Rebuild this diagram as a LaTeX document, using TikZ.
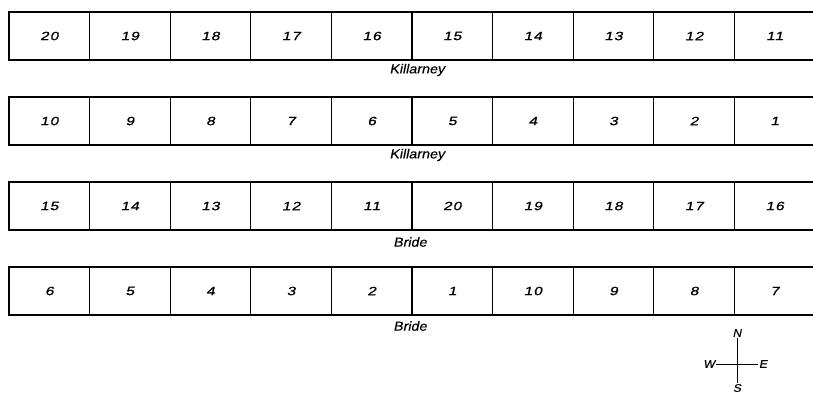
\documentclass[tikz,border=0pt]{standalone}
\usepackage{fontspec}
\setmainfont{Liberation Sans}
\newfontfamily\numfont[FakeStretch=1.3,FakeSlant=0.22,FakeBold=1.2,LetterSpace=8]{Liberation Sans}
\newfontfamily\lblfont[FakeStretch=1.1,FakeSlant=0.2,FakeBold=0.5]{Liberation Sans}
\begin{document}
\begin{tikzpicture}[x=1pt,y=1pt,
  plot/.style={draw,line width=1.3pt,minimum width=80.6pt,minimum height=48pt,inner sep=0pt,outer sep=0pt,anchor=north west,font=\numfont\fontsize{12}{14}\selectfont},
  varlabel/.style={font=\lblfont\fontsize{13}{15}\selectfont,inner sep=0pt},
  compass/.style={font=\lblfont\fontsize{11}{13}\selectfont,inner sep=1pt},
  compline/.style={line width=0.9pt}]
\useasboundingbox (0,0) rectangle (813,-394);
\clip (0,0) rectangle (813,-394);
\foreach \row/\top/\labels in {1/12/{20,19,18,17,16,15,14,13,12,11},
                               2/97/{10,9,8,7,6,5,4,3,2,1},
                               3/182/{15,14,13,12,11,20,19,18,17,16},
                               4/267/{6,5,4,3,2,1,10,9,8,7}}{
  \foreach \t [count=\c] in \labels {
    \node[plot] (r\row c\c) at ({9+(\c-1)*80.6},-\top) {\t};
  }
}
\node[varlabel] (k1) at (417,-70) {Killarney};
\node[varlabel] (k2) at (417,-155) {Killarney};
\node[varlabel] (b1) at (410,-242) {Bride};
\node[varlabel] (b2) at (410,-326) {Bride};
\node[compass] (N) at (737,-333) {N};
\node[compass] (S) at (737,-388) {S};
\node[compass] (W) at (709,-364) {W};
\node[compass] (E) at (763,-364) {E};
\draw[compline] (N) -- (S);
\draw[compline] (W) -- (E);
\end{tikzpicture}
\end{document}
